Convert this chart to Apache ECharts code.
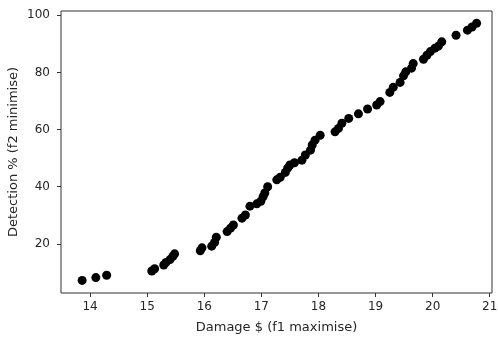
<!DOCTYPE html>
<html>
<head>
<meta charset="utf-8">
<script src="https://cdn.jsdelivr.net/npm/echarts@6/dist/echarts.min.js"></script>
<style>
  html, body { margin: 0; padding: 0; background: #fff; }
  #chart { width: 498px; height: 337px; }
</style>
</head>
<body>
<div id="chart"></div>
<script>
// Pareto front: damage (f1, maximised) against detection (f2, minimised)
const damage = [
  13.86, 14.10, 14.29, 15.08, 15.13, 15.29, 15.33, 15.40, 15.45, 15.48,
  15.93, 15.96, 16.13, 16.18, 16.21, 16.40, 16.46, 16.51, 16.66, 16.72,
  16.80, 16.92, 16.99, 17.03, 17.06, 17.11, 17.27, 17.33, 17.42, 17.46,
  17.50, 17.58, 17.71, 17.77, 17.86, 17.89, 17.94, 18.03, 18.29, 18.35,
  18.41, 18.53, 18.70, 18.86, 19.02, 19.08, 19.25, 19.31, 19.43, 19.49,
  19.53, 19.63, 19.66, 19.84, 19.90, 19.96, 20.04, 20.10, 20.16, 20.41,
  20.61, 20.69, 20.77
];
const detection = [
  7.2, 8.2, 9.0, 10.5, 11.3, 12.6, 13.5, 14.5, 15.6, 16.5,
  17.6, 18.6, 19.2, 20.5, 22.3, 24.3, 25.5, 26.6, 29.0, 30.1,
  33.2, 34.0, 34.9, 36.5, 37.8, 40.0, 42.4, 43.3, 45.0, 46.5,
  47.6, 48.4, 49.3, 51.1, 52.8, 54.6, 56.3, 58.0, 59.2, 60.4,
  62.2, 63.9, 65.5, 67.2, 68.6, 69.8, 73.0, 74.8, 76.5, 78.8,
  80.2, 81.5, 83.1, 84.6, 86.0, 87.3, 88.5, 89.2, 90.7, 93.0,
  94.8, 95.9, 97.2
];
const xTicks = [14, 15, 16, 17, 18, 19, 20, 21];
const yTicks = [20, 40, 60, 80, 100];

const points = damage.map((d, i) => [d, detection[i]]);
const font = 'DejaVu Sans';
const ink = '#262626';

const chart = echarts.init(document.getElementById('chart'), null, { renderer: 'canvas' });
chart.setOption({
  animation: false,
  backgroundColor: '#ffffff',
  grid: {
    left: 61, right: 6, top: 11, bottom: 44,
    outerBoundsMode: 'none',
    show: true, borderColor: '#333', borderWidth: 1, backgroundColor: 'transparent'
  },
  xAxis: {
    type: 'value',
    min: 13.49, max: 21.04,
    name: 'Damage $ (f1 maximise)',
    nameLocation: 'middle', nameGap: 28, nameMoveOverlap: false,
    nameTextStyle: { fontFamily: font, fontSize: 13, color: ink },
    axisLine: { show: false },
    splitLine: { show: false },
    axisTick: { show: true, inside: false, length: 4, customValues: xTicks,
                lineStyle: { color: '#333' } },
    axisLabel: { customValues: xTicks, fontFamily: font, fontSize: 12, color: ink, margin: 8 }
  },
  yAxis: {
    type: 'value',
    min: 2.8, max: 101.5,
    name: 'Detection % (f2 minimise)',
    nameLocation: 'middle', nameGap: 41, nameRotate: 90, nameMoveOverlap: false,
    nameTextStyle: { fontFamily: font, fontSize: 13, color: ink },
    axisLine: { show: false },
    splitLine: { show: false },
    axisTick: { show: true, inside: false, length: 4, customValues: yTicks,
                lineStyle: { color: '#333' } },
    axisLabel: { customValues: yTicks, fontFamily: font, fontSize: 12, color: ink, margin: 11 }
  },
  series: [{
    type: 'scatter',
    data: points,
    symbol: 'circle',
    symbolSize: 9,
    itemStyle: { color: '#000', opacity: 1 }
  }]
});
</script>
</body>
</html>
